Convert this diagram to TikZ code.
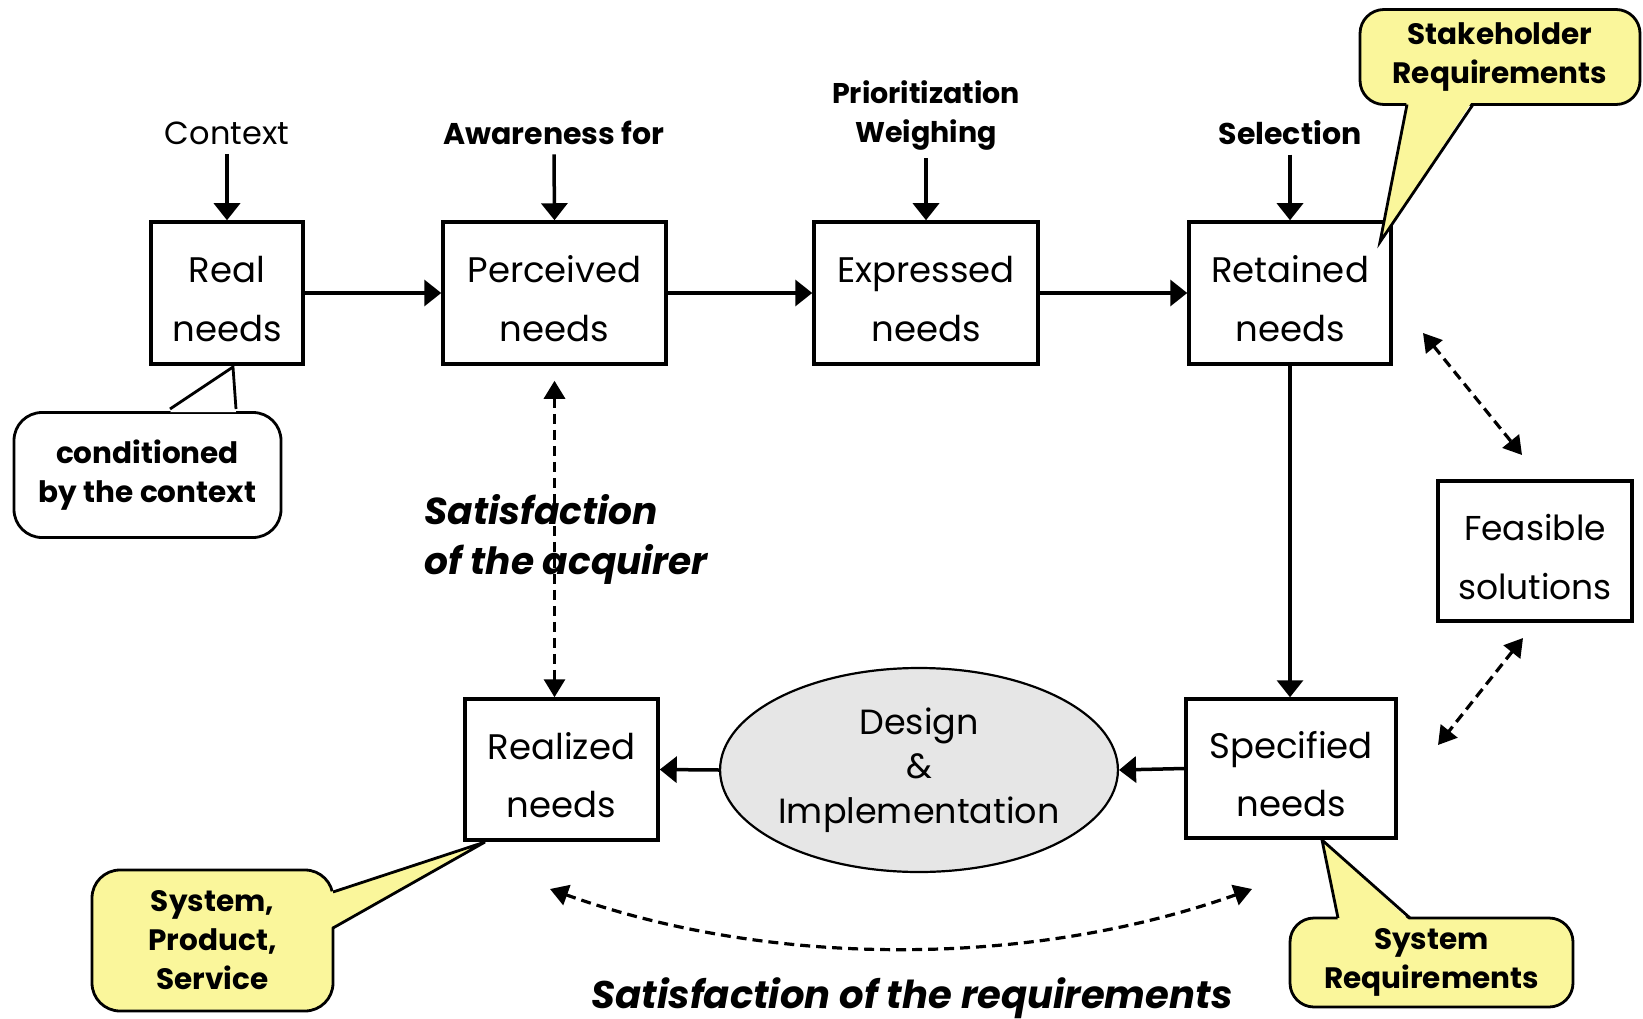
\documentclass[tikz,border=0pt]{standalone}
\usepackage{fontspec}
\setmainfont{Poppins}
\usetikzlibrary{arrows.meta,shapes.geometric,calc}
\definecolor{calloutyellow}{RGB}{250,246,155}
\definecolor{ellgray}{RGB}{230,230,230}
\newcommand\boxstrut{\rule{0pt}{38pt}}
\begin{document}
\begin{tikzpicture}[x=1pt,y=-1pt,
  needbox/.style={draw,line width=3.5pt,fill=white,inner sep=0pt,align=center,
    font=\fontsize{35.5}{58.5}\selectfont},
  toplabel/.style={align=center,font=\fontsize{30}{39}\selectfont\bfseries},
  flow/.style={line width=3.5pt,-{Triangle[length=17pt,width=26pt]}},
  dflow/.style={line width=3.2pt,dash pattern=on 10pt off 6pt,
    {Triangle[length=18pt,width=21pt]}-{Triangle[length=18pt,width=21pt]}},
  callout/.style={draw,line width=2.8pt,rounded corners=28pt,inner sep=0pt,align=center,
    font=\fontsize{29.5}{39}\selectfont\bfseries},
  ptredge/.style={line width=2.8pt,line join=miter},
  bigital/.style={align=left,font=\fontsize{37.5}{50}\selectfont\bfseries\itshape}
]
\useasboundingbox (0,0) rectangle (1643,1019);
\fill[white] (0,0) rectangle (1643,1019);

% main boxes
\node[needbox,minimum width=152pt,minimum height=142pt] (real) at (227,293) {\boxstrut Real\\needs};
\node[needbox,minimum width=223pt,minimum height=142pt] (perc) at (554.5,293) {\boxstrut Perceived\\needs};
\node[needbox,minimum width=224pt,minimum height=142pt] (expr) at (926,293) {\boxstrut Expressed\\needs};
\node[needbox,minimum width=202pt,minimum height=142pt] (ret) at (1290,293) {\boxstrut Retained\\needs};
\node[needbox,minimum width=194pt,minimum height=140pt,font=\fontsize{34.5}{58.5}\selectfont] (feas) at (1535,551) {\boxstrut Feasible\\solutions};
\node[needbox,minimum width=193pt,minimum height=141pt] (realized) at (561.5,769.5) {\boxstrut Realized\\needs};
\node[needbox,minimum width=210pt,minimum height=139pt] (spec) at (1291,768.5) {\boxstrut Specified\\needs};
\node[ellipse,draw,line width=2.2pt,fill=ellgray,minimum width=394pt,minimum height=204pt,inner sep=0pt,
  align=center,font=\fontsize{35}{44.5}\selectfont] (design) at (919,770) {Design\\\&\\Implementation};

% top labels
\node[align=center,font=\fontsize{32}{39}\selectfont] (context) at (227,133) {Context};
\node[toplabel] (aware) at (554,133) {Awareness for};
\node[toplabel,font=\fontsize{28.5}{39}\selectfont\bfseries] (prio) at (926,116) {Prioritization\\Weighing};
\node[toplabel] (select) at (1290,133) {Selection};

\draw[flow] (context.south) ++(0,6) -- (real.north);
\draw[flow] (aware.south) ++(0,6) -- (perc.north);
\draw[flow] (prio.south) ++(0,4) -- (expr.north);
\draw[flow] (select.south) ++(0,6) -- (ret.north);

% flow arrows
\draw[flow] (real.east) -- (perc.west);
\draw[flow] (perc.east) -- (expr.west);
\draw[flow] (expr.east) -- (ret.west);
\draw[flow] (ret.south) -- (spec.north -| ret.south);
\draw[flow] (spec.west) -- (design.east);
\draw[flow] (design.west) -- (realized.east);

% satisfaction of the acquirer
\node[bigital,anchor=west] (acq) at (421,539) {Satisfaction\\of the acquirer};
\draw[dflow] ($(perc.south)+(0,15)$) -- (perc.south |- realized.north);

% feasible solution links
\coordinate (fa1) at (1423,333);
\coordinate (fa2) at (1522,455);
\coordinate (fb1) at (1523,638);
\coordinate (fb2) at (1438,745);
\draw[dflow] (fa1) -- (fa2);
\draw[dflow] (fb1) -- (fb2);

% satisfaction of the requirements
\coordinate (sr1) at (550,889);
\coordinate (sr2) at (1252,889);
\draw[dflow] (sr1) .. controls (770,968) and (1030,968) .. (sr2);
\node[font=\fontsize{38.5}{44}\selectfont\bfseries\itshape] (req) at (912,998) {Satisfaction of the requirements};

% callout: conditioned by the context
\node[callout,fill=white,minimum width=267pt,minimum height=125pt] (cctx) at (147.5,475) {conditioned\\by the context};
\coordinate (cctxtip) at (233,367);
\fill[white] (170,412) -- (cctxtip) -- (236,412) -- cycle;
\draw[ptredge] (170,409) -- (cctxtip) -- (236,409);

% callout: stakeholder requirements
\node[callout,fill=calloutyellow,minimum width=280pt,minimum height=95pt,rounded corners=24pt] (cstake) at (1500,57) {Stakeholder\\Requirements};
\coordinate (csttip) at (1380,242);
\fill[calloutyellow] (1407,100) -- (csttip) -- (1473,100) -- cycle;
\draw[ptredge] (1407,104.5) -- (csttip) -- (1473,104.5);

% callout: system, product, service
\node[callout,fill=calloutyellow,minimum width=241pt,minimum height=141pt] (csps) at (212.5,940.5) {System,\\Product,\\Service};
\coordinate (cspstip) at (485,842);
\fill[calloutyellow] (330,892) -- (cspstip) -- (330,928) -- cycle;
\draw[ptredge] (333,892) -- (cspstip) -- (333,928);

% callout: system requirements
\node[callout,fill=calloutyellow,minimum width=283pt,minimum height=89pt,rounded corners=24pt] (csys) at (1431.5,962.5) {System\\Requirements};
\coordinate (csystip) at (1322,840);
\fill[calloutyellow] (1338,921) -- (csystip) -- (1410,921) -- cycle;
\draw[ptredge] (1338,918) -- (csystip) -- (1410,918);
\end{tikzpicture}
\end{document}
